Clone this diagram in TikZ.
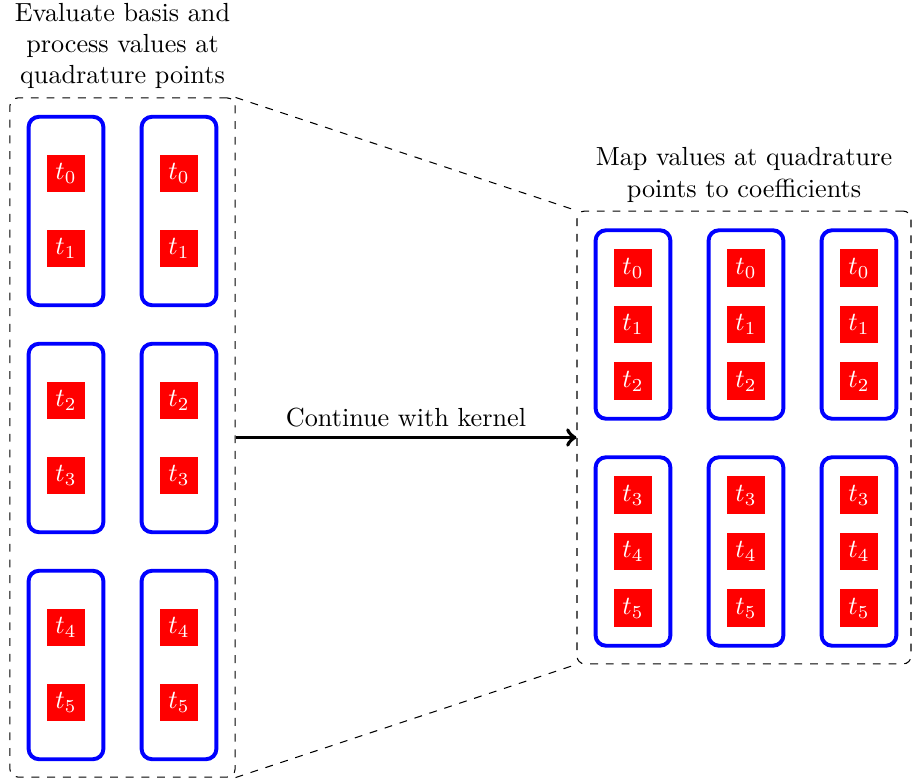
\documentclass[tikz,border=0pt]{standalone}
\tikzset{
  task/.style={fill=red, text=white, minimum size=14.5pt, inner sep=0pt},
  group/.style={draw=blue, line width=1.5pt, rounded corners=4pt, minimum width=28.6pt, minimum height=72pt},
  panel/.style={draw, dashed, rounded corners=3pt, inner sep=0pt},
  caption/.style={align=center, inner sep=3pt}
}
\begin{document}
\begin{tikzpicture}[x=0.382pt,y=0.382pt,yscale=-1,xscale=1]
\useasboundingbox (0,0) rectangle (913,782);

%Shape: Panels
\node[panel, minimum width=86pt, minimum height=259.4pt] (leftpanel) at (122.5,437.5) {};
\node[panel, minimum width=127.6pt, minimum height=173pt] (rightpanel) at (744,437.5) {};

% Text Node
\node[caption, above] (lefttitle) at (leftpanel.north) {Evaluate basis and\\process values at\\quadrature points};
% Text Node
\node[caption, above] (righttitle) at (rightpanel.north) {Map values at quadrature\\points to coefficients};

%Shape: Groups left
\node[group] (lg1a) at (66,211) {};
\node[group] (lg1b) at (179,211) {};
\node[group] (lg2a) at (66,438) {};
\node[group] (lg2b) at (179,438) {};
\node[group] (lg3a) at (66,665) {};
\node[group] (lg3b) at (179,665) {};

%Shape: Groups right
\node[group] (rg1a) at (633,324.5) {};
\node[group] (rg1b) at (746,324.5) {};
\node[group] (rg1c) at (859,324.5) {};
\node[group] (rg2a) at (633,551.5) {};
\node[group] (rg2b) at (746,551.5) {};
\node[group] (rg2c) at (859,551.5) {};

% Tasks left
\node[task] (la0) at (66,173.5) {$t_0$};
\node[task] (la1) at (66,248.5) {$t_1$};
\node[task] (la2) at (66,400.5) {$t_2$};
\node[task] (la3) at (66,475.5) {$t_3$};
\node[task] (la4) at (66,627.5) {$t_4$};
\node[task] (la5) at (66,702.5) {$t_5$};
\node[task] (lb0) at (179,173.5) {$t_0$};
\node[task] (lb1) at (179,248.5) {$t_1$};
\node[task] (lb2) at (179,400.5) {$t_2$};
\node[task] (lb3) at (179,475.5) {$t_3$};
\node[task] (lb4) at (179,627.5) {$t_4$};
\node[task] (lb5) at (179,702.5) {$t_5$};

% Tasks right
\node[task] (ra0) at (633,268) {$t_0$};
\node[task] (ra1) at (633,324.5) {$t_1$};
\node[task] (ra2) at (633,381) {$t_2$};
\node[task] (ra3) at (633,495) {$t_3$};
\node[task] (ra4) at (633,551.5) {$t_4$};
\node[task] (ra5) at (633,608) {$t_5$};
\node[task] (rb0) at (746,268) {$t_0$};
\node[task] (rb1) at (746,324.5) {$t_1$};
\node[task] (rb2) at (746,381) {$t_2$};
\node[task] (rb3) at (746,495) {$t_3$};
\node[task] (rb4) at (746,551.5) {$t_4$};
\node[task] (rb5) at (746,608) {$t_5$};
\node[task] (rc0) at (859,268) {$t_0$};
\node[task] (rc1) at (859,324.5) {$t_1$};
\node[task] (rc2) at (859,381) {$t_2$};
\node[task] (rc3) at (859,495) {$t_3$};
\node[task] (rc4) at (859,551.5) {$t_4$};
\node[task] (rc5) at (859,608) {$t_5$};

%Shape: Zoom lines
\draw[dashed] (leftpanel.north east) -- (rightpanel.north west);
\draw[dashed] (leftpanel.south east) -- (rightpanel.south west);

%Shape: Arrow
\draw[->, line width=1.5pt] (leftpanel.east) -- node[above] {Continue with kernel} (rightpanel.west);

\end{tikzpicture}
\end{document}
